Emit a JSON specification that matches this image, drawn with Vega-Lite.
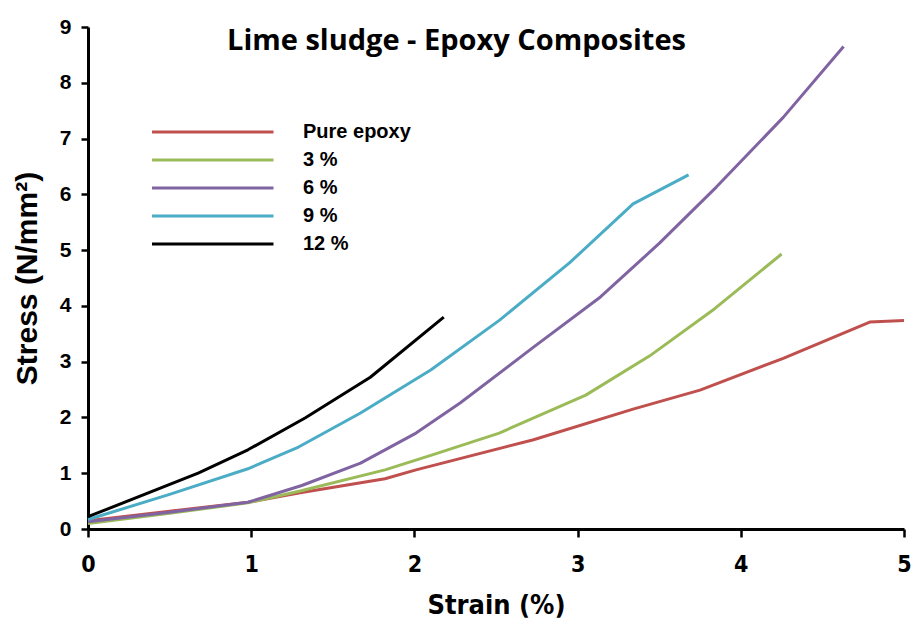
{
  "$schema": "https://vega.github.io/schema/vega-lite/v6.json",
  "width": 816,
  "height": 502,
  "autosize": {"type": "none"},
  "padding": {"left": 88, "top": 27, "right": 8, "bottom": 92},
  "background": "white",
  "title": {
    "text": "Lime sludge - Epoxy Composites",
    "font": "Open Sans",
    "fontSize": 29,
    "fontWeight": "bold",
    "color": "black",
    "anchor": "start",
    "frame": "group",
    "dx": 139,
    "offset": -40
  },
  "data": {
    "values": [
      {"series": "Pure epoxy", "strain": 0, "stress": 0.15},
      {"series": "Pure epoxy", "strain": 0.5, "stress": 0.32},
      {"series": "Pure epoxy", "strain": 0.98, "stress": 0.48},
      {"series": "Pure epoxy", "strain": 1.3, "stress": 0.65},
      {"series": "Pure epoxy", "strain": 1.82, "stress": 0.9},
      {"series": "Pure epoxy", "strain": 2.01, "stress": 1.06},
      {"series": "Pure epoxy", "strain": 2.73, "stress": 1.6},
      {"series": "Pure epoxy", "strain": 3.34, "stress": 2.15},
      {"series": "Pure epoxy", "strain": 3.75, "stress": 2.49},
      {"series": "Pure epoxy", "strain": 4.26, "stress": 3.06},
      {"series": "Pure epoxy", "strain": 4.79, "stress": 3.71},
      {"series": "Pure epoxy", "strain": 5.0, "stress": 3.74},
      {"series": "3 %", "strain": 0, "stress": 0.1},
      {"series": "3 %", "strain": 0.5, "stress": 0.28},
      {"series": "3 %", "strain": 0.98, "stress": 0.47},
      {"series": "3 %", "strain": 1.3, "stress": 0.68},
      {"series": "3 %", "strain": 1.82, "stress": 1.06},
      {"series": "3 %", "strain": 2.11, "stress": 1.33},
      {"series": "3 %", "strain": 2.52, "stress": 1.72},
      {"series": "3 %", "strain": 3.05, "stress": 2.4},
      {"series": "3 %", "strain": 3.44, "stress": 3.1},
      {"series": "3 %", "strain": 3.84, "stress": 3.95},
      {"series": "3 %", "strain": 4.25, "stress": 4.93},
      {"series": "6 %", "strain": 0, "stress": 0.13},
      {"series": "6 %", "strain": 0.5, "stress": 0.3},
      {"series": "6 %", "strain": 0.98, "stress": 0.48},
      {"series": "6 %", "strain": 1.31, "stress": 0.78},
      {"series": "6 %", "strain": 1.67, "stress": 1.18},
      {"series": "6 %", "strain": 2.01, "stress": 1.72},
      {"series": "6 %", "strain": 2.28, "stress": 2.26},
      {"series": "6 %", "strain": 2.73, "stress": 3.26},
      {"series": "6 %", "strain": 3.14, "stress": 4.16},
      {"series": "6 %", "strain": 3.5, "stress": 5.12},
      {"series": "6 %", "strain": 3.85, "stress": 6.13},
      {"series": "6 %", "strain": 4.26, "stress": 7.38},
      {"series": "6 %", "strain": 4.63, "stress": 8.65},
      {"series": "9 %", "strain": 0, "stress": 0.17},
      {"series": "9 %", "strain": 0.5, "stress": 0.62},
      {"series": "9 %", "strain": 0.98, "stress": 1.08},
      {"series": "9 %", "strain": 1.29, "stress": 1.47},
      {"series": "9 %", "strain": 1.67, "stress": 2.08},
      {"series": "9 %", "strain": 2.1, "stress": 2.85},
      {"series": "9 %", "strain": 2.52, "stress": 3.74},
      {"series": "9 %", "strain": 2.95, "stress": 4.77},
      {"series": "9 %", "strain": 3.34, "stress": 5.83},
      {"series": "9 %", "strain": 3.68, "stress": 6.35},
      {"series": "12 %", "strain": 0, "stress": 0.22},
      {"series": "12 %", "strain": 0.675, "stress": 1.0},
      {"series": "12 %", "strain": 0.98, "stress": 1.42},
      {"series": "12 %", "strain": 1.33, "stress": 1.99},
      {"series": "12 %", "strain": 1.73, "stress": 2.72},
      {"series": "12 %", "strain": 2.18, "stress": 3.8}
    ]
  },
  "mark": {"type": "line", "strokeWidth": 3, "strokeJoin": "round"},
  "encoding": {
    "x": {
      "field": "strain",
      "type": "quantitative",
      "scale": {"domain": [0, 5], "nice": false, "zero": false},
      "axis": {
        "title": "Strain (%)",
        "values": [0, 1, 2, 3, 4, 5],
        "grid": false,
        "labelFlush": false,
        "domainColor": "black",
        "domainWidth": 3,
        "tickColor": "black",
        "tickWidth": 2.5,
        "tickSize": 8,
        "labelFont": "DejaVu Sans Condensed, Liberation Sans",
        "labelFontSize": 23,
        "labelFontWeight": "bold",
        "labelColor": "black",
        "labelPadding": 16,
        "titleFont": "DejaVu Sans Condensed, Liberation Sans",
        "titleFontSize": 27,
        "titleFontWeight": "bold",
        "titleColor": "black",
        "titlePadding": 16
      }
    },
    "y": {
      "field": "stress",
      "type": "quantitative",
      "scale": {"domain": [0, 9], "nice": false, "zero": true},
      "axis": {
        "title": "Stress (N/mm²)",
        "values": [0, 1, 2, 3, 4, 5, 6, 7, 8, 9],
        "grid": false,
        "labelFlush": false,
        "domainColor": "black",
        "domainWidth": 3,
        "tickColor": "black",
        "tickWidth": 2.5,
        "tickSize": 7,
        "labelFont": "Liberation Sans",
        "labelFontSize": 21,
        "labelFontWeight": "bold",
        "labelColor": "black",
        "labelPadding": 10,
        "titleFont": "Liberation Sans",
        "titleFontSize": 30,
        "titleFontWeight": "bold",
        "titleColor": "black",
        "titlePadding": 17
      }
    },
    "color": {
      "field": "series",
      "type": "nominal",
      "scale": {
        "domain": ["Pure epoxy", "3 %", "6 %", "9 %", "12 %"],
        "range": ["#C0504D", "#9BBB59", "#8064A2", "#4BACC6", "#000000"]
      },
      "legend": {
        "title": null,
        "orient": "none",
        "legendX": 52,
        "legendY": 93,
        "symbolType": "M 0 0 H 12",
        "symbolSize": 410,
        "symbolStrokeWidth": 3,
        "labelOffset": 139,
        "labelFont": "Liberation Sans",
        "labelFontSize": 20,
        "labelFontWeight": "bold",
        "labelColor": "black",
        "rowPadding": 6
      }
    }
  },
  "config": {"view": {"stroke": null}}
}
